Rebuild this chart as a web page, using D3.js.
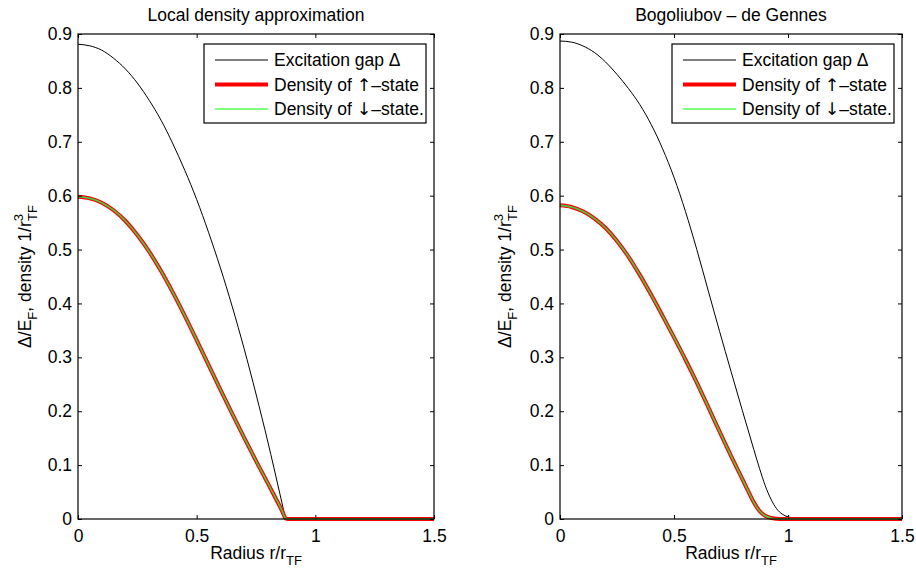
<!DOCTYPE html>
<html>
<head>
<meta charset="utf-8">
<script src="https://cdn.jsdelivr.net/npm/d3@7"></script>
<style>
  html, body { margin: 0; padding: 0; background: #fff; }
  svg text { font-family: "Liberation Sans", Arial, sans-serif; fill: #000; }
</style>
</head>
<body>
<svg id="chart" width="916" height="572"></svg>
<script>
// ---------- data ----------
const xTicks = [0, 0.5, 1, 1.5];
const xTickLabels = ["0", "0.5", "1", "1.5"];
const yTicks = [0, 0.1, 0.2, 0.3, 0.4, 0.5, 0.6, 0.7, 0.8, 0.9];
const yTickLabels = ["0", "0.1", "0.2", "0.3", "0.4", "0.5", "0.6", "0.7", "0.8", "0.9"];

const panelTitles = ["Local density approximation", "Bogoliubov \u2013 de Gennes"];
// legend labels split as [before arrow, arrow, after arrow]
const legendLabels = [
  ["Excitation gap \u0394", "", ""],
  ["Density of ", "\u2191", "\u2013state"],
  ["Density of ", "\u2193", "\u2013state."]
];

// Local density approximation
const ldaR = [0, 0.05, 0.1, 0.15, 0.2, 0.25, 0.3, 0.35, 0.4, 0.45, 0.5, 0.55, 0.6, 0.65, 0.7, 0.75, 0.8, 0.825, 0.85, 0.865, 0.875, 0.885, 1.0, 1.5];
const ldaGap = [0.881, 0.878, 0.870, 0.855, 0.835, 0.809, 0.777, 0.740, 0.696, 0.647, 0.593, 0.532, 0.466, 0.394, 0.316, 0.232, 0.143, 0.096, 0.048, 0.019, 0, 0, 0, 0];
const ldaDensityUp = [0.598, 0.595, 0.587, 0.573, 0.553, 0.527, 0.496, 0.460, 0.420, 0.377, 0.332, 0.286, 0.240, 0.195, 0.151, 0.108, 0.066, 0.045, 0.024, 0.010, 0.001, 0, 0, 0];
const ldaDensityDown = [0.598, 0.595, 0.587, 0.573, 0.553, 0.527, 0.496, 0.460, 0.420, 0.377, 0.332, 0.286, 0.240, 0.195, 0.151, 0.108, 0.066, 0.045, 0.024, 0.010, 0.001, 0, 0, 0];

// Bogoliubov - de Gennes
const bdgR = [0, 0.05, 0.1, 0.15, 0.2, 0.25, 0.3, 0.35, 0.4, 0.45, 0.5, 0.55, 0.6, 0.65, 0.7, 0.75, 0.8, 0.825, 0.85, 0.875, 0.9, 0.925, 0.95, 0.975, 1.0, 1.05, 1.1, 1.2, 1.5];
const bdgGap = [0.887, 0.885, 0.878, 0.866, 0.848, 0.825, 0.799, 0.769, 0.732, 0.687, 0.634, 0.571, 0.500, 0.424, 0.348, 0.274, 0.201, 0.165, 0.129, 0.094, 0.062, 0.037, 0.019, 0.009, 0.004, 0.001, 0, 0, 0];
const bdgDensityUp = [0.582, 0.579, 0.571, 0.558, 0.540, 0.516, 0.487, 0.453, 0.416, 0.377, 0.337, 0.296, 0.253, 0.208, 0.162, 0.117, 0.074, 0.052, 0.031, 0.015, 0.006, 0.002, 0.0005, 0, 0, 0, 0, 0, 0];
const bdgDensityDown = [0.582, 0.579, 0.571, 0.558, 0.540, 0.516, 0.487, 0.453, 0.416, 0.377, 0.337, 0.296, 0.253, 0.208, 0.162, 0.117, 0.074, 0.052, 0.031, 0.015, 0.006, 0.002, 0.0005, 0, 0, 0, 0, 0, 0];

// ---------- drawing ----------
const svg = d3.select("#chart");
const FS = 17.5;

const panels = [
  { title: panelTitles[0], left: 78, right: 434, r: ldaR, gap: ldaGap, up: ldaDensityUp, down: ldaDensityDown, ylabX: 31 },
  { title: panelTitles[1], left: 560, right: 902, r: bdgR, gap: bdgGap, up: bdgDensityUp, down: bdgDensityDown, ylabX: 511 }
];
const plotTop = 34, plotBottom = 519;

panels.forEach(p => {
  const x = d3.scaleLinear().domain([0, 1.5]).range([p.left, p.right]);
  const y = d3.scaleLinear().domain([0, 0.9]).range([plotBottom, plotTop]);
  const g = svg.append("g");

  // curves
  const line = d3.line().x(d => x(d[0])).y(d => y(d[1])).curve(d3.curveMonotoneX);
  const gapPts = p.r.map((rv, i) => [rv, p.gap[i]]);
  const upPts = p.r.map((rv, i) => [rv, p.up[i]]);
  const downPts = p.r.map((rv, i) => [rv, p.down[i]]);

  g.append("path").attr("d", line(gapPts)).attr("fill", "none").attr("stroke", "#000").attr("stroke-width", 1);
  g.append("path").attr("d", line(upPts)).attr("fill", "none").attr("stroke", "#ff0000").attr("stroke-width", 4);
  g.append("path").attr("d", line(downPts)).attr("fill", "none").attr("stroke", "#44cc44").attr("stroke-width", 1.6);

  // axes with inward ticks
  const ax = g.append("g").attr("class", "axes");
  const bottomAxis = d3.axisBottom(x).tickValues(xTicks).tickFormat((d, i) => xTickLabels[i]).tickSizeInner(-4).tickSizeOuter(0).tickPadding(10);
  const topAxis = d3.axisTop(x).tickValues(xTicks).tickFormat("").tickSizeInner(-4).tickSizeOuter(0);
  const leftAxis = d3.axisLeft(y).tickValues(yTicks).tickFormat((d, i) => yTickLabels[i]).tickSizeInner(-4).tickSizeOuter(0).tickPadding(6);
  const rightAxis = d3.axisRight(y).tickValues(yTicks).tickFormat("").tickSizeInner(-4).tickSizeOuter(0);

  const gb = ax.append("g").attr("transform", `translate(0,${plotBottom})`).call(bottomAxis);
  const gt = ax.append("g").attr("transform", `translate(0,${plotTop})`).call(topAxis);
  const gl = ax.append("g").attr("transform", `translate(${p.left},0)`).call(leftAxis);
  const gr = ax.append("g").attr("transform", `translate(${p.right},0)`).call(rightAxis);
  [gb, gt, gl, gr].forEach(a => {
    a.select(".domain").remove();
    a.selectAll(".tick line").attr("stroke", "#000").attr("stroke-width", 1);
    a.selectAll("text").attr("font-size", FS).attr("font-family", "Liberation Sans, Arial, sans-serif").attr("fill", "#000");
  });
  gb.selectAll("text").attr("dy", null).attr("y", 23);

  // frame
  ax.append("rect")
    .attr("x", p.left).attr("y", plotTop)
    .attr("width", p.right - p.left).attr("height", plotBottom - plotTop)
    .attr("fill", "none").attr("stroke", "#000").attr("stroke-width", 1.2);

  // title
  const cx = (p.left + p.right) / 2;
  svg.append("text").attr("x", cx).attr("y", 21).attr("text-anchor", "middle").attr("font-size", FS).text(p.title);

  // x label
  const xl = svg.append("text").attr("x", cx).attr("y", 559).attr("text-anchor", "middle").attr("font-size", FS);
  xl.append("tspan").text("Radius r/r");
  xl.append("tspan").attr("font-size", 13).attr("dy", 6).text("TF");

  // y label
  const yl = svg.append("text")
    .attr("transform", `translate(${p.ylabX},${(plotTop + plotBottom) / 2}) rotate(-90)`)
    .attr("text-anchor", "middle").attr("font-size", FS);
  yl.append("tspan").text("\u0394/E");
  yl.append("tspan").attr("font-size", 13).attr("dy", 6).text("F");
  yl.append("tspan").attr("dy", -6).text(", density 1/r");
  yl.append("tspan").attr("font-size", 13).attr("dy", -8).text("3");
  yl.append("tspan").attr("font-size", 13).attr("dx", -7).attr("dy", 14).text("TF");

  // legend
  const lx = p.right - 8 - 222, ly = 44;
  const lg = svg.append("g");
  lg.append("rect").attr("x", lx).attr("y", ly).attr("width", 222).attr("height", 79)
    .attr("fill", "#fff").attr("stroke", "#000").attr("stroke-width", 1.2);
  const rows = [
    { color: "#000", w: 1, label: legendLabels[0] },
    { color: "#ff0000", w: 4, label: legendLabels[1] },
    { color: "#80ff80", w: 2, label: legendLabels[2] }
  ];
  rows.forEach((row, i) => {
    const ry = ly + 16 + i * 24.5;
    lg.append("line").attr("x1", lx + 11).attr("x2", lx + 64).attr("y1", ry).attr("y2", ry)
      .attr("stroke", row.color).attr("stroke-width", row.w);
    const t = lg.append("text").attr("x", lx + 70).attr("y", ry + 6).attr("font-size", FS);
    t.append("tspan").text(row.label[0]);
    if (row.label[1]) {
      t.append("tspan").attr("font-family", "DejaVu Sans").attr("fill", "#000").text(row.label[1]);
      t.append("tspan").text(row.label[2]);
    }
  });
});
</script>
</body>
</html>
